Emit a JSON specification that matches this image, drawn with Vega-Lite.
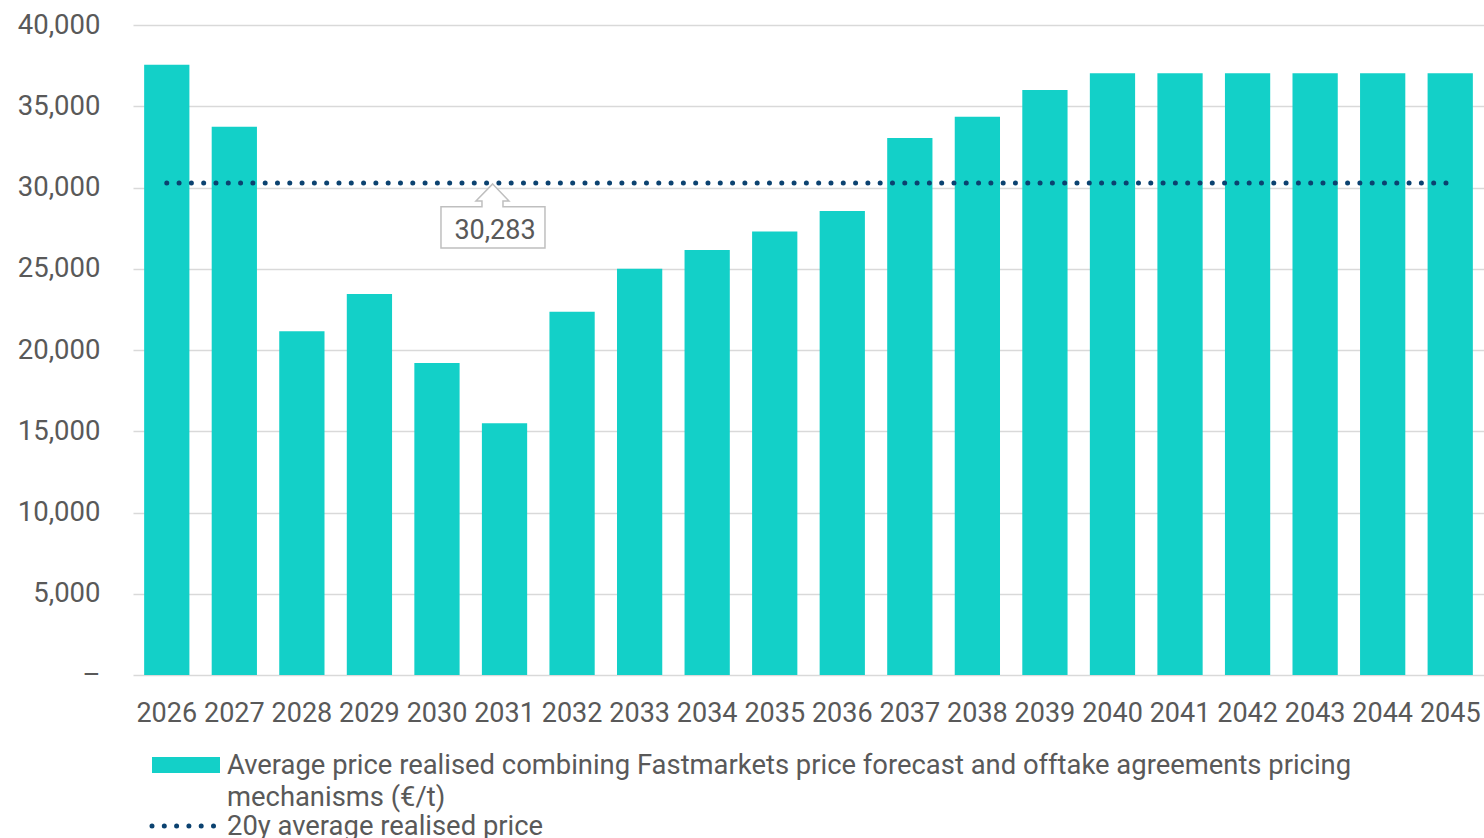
{
  "$schema": "https://vega.github.io/schema/vega-lite/v6.json",
  "width": 1351,
  "height": 650,
  "autosize": {"type": "none"},
  "padding": {"left": 133, "top": 25, "right": 0, "bottom": 163},
  "background": "white",
  "config": {"font": "Roboto", "view": {"stroke": null}},
  "resolve": {"scale": {"color": "independent"}, "legend": {"color": "independent"}},
  "data": {
    "values": [
      {"year": "2026", "price": 37550, "avg": 30283},
      {"year": "2027", "price": 33740, "avg": 30283},
      {"year": "2028", "price": 21150, "avg": 30283},
      {"year": "2029", "price": 23450, "avg": 30283},
      {"year": "2030", "price": 19200, "avg": 30283},
      {"year": "2031", "price": 15500, "avg": 30283},
      {"year": "2032", "price": 22350, "avg": 30283},
      {"year": "2033", "price": 25000, "avg": 30283},
      {"year": "2034", "price": 26150, "avg": 30283},
      {"year": "2035", "price": 27300, "avg": 30283},
      {"year": "2036", "price": 28550, "avg": 30283},
      {"year": "2037", "price": 33050, "avg": 30283},
      {"year": "2038", "price": 34350, "avg": 30283},
      {"year": "2039", "price": 36000, "avg": 30283},
      {"year": "2040", "price": 37030, "avg": 30283},
      {"year": "2041", "price": 37030, "avg": 30283},
      {"year": "2042", "price": 37030, "avg": 30283},
      {"year": "2043", "price": 37030, "avg": 30283},
      {"year": "2044", "price": 37030, "avg": 30283},
      {"year": "2045", "price": 37030, "avg": 30283}
    ]
  },
  "encoding": {
    "x": {
      "field": "year",
      "type": "nominal",
      "sort": null,
      "scale": {"paddingInner": 0.33, "paddingOuter": 0.165},
      "axis": {
        "title": null,
        "labelAngle": 0,
        "domain": false,
        "ticks": false,
        "tickSize": 0,
        "labelPadding": 25,
        "labelFontSize": 27,
        "labelColor": "#595959",
        "labelFont": "Roboto"
      }
    }
  },
  "layer": [
    {
      "mark": {"type": "bar"},
      "encoding": {
        "y": {
          "field": "price",
          "type": "quantitative",
          "scale": {"domain": [0, 40000], "nice": false},
          "axis": {
            "title": null,
            "values": [0, 5000, 10000, 15000, 20000, 25000, 30000, 35000, 40000],
            "labelExpr": "datum.value == 0 ? '– ' : format(datum.value, ',')",
            "grid": true,
            "gridColor": "#d9d9d9",
            "gridWidth": 1.5,
            "domain": false,
            "ticks": false,
            "tickSize": 0,
            "labelPadding": 33,
            "labelFontSize": 27.5,
            "labelColor": "#595959",
            "labelFont": "Roboto"
          }
        },
        "color": {
          "datum": "Average price realised combining Fastmarkets price forecast and offtake agreements pricing mechanisms (€/t)",
          "type": "nominal",
          "scale": {
            "domain": ["Average price realised combining Fastmarkets price forecast and offtake agreements pricing mechanisms (€/t)"],
            "range": ["#13D0C8"]
          },
          "legend": {
            "title": null,
            "orient": "none",
            "legendX": 16.5,
            "legendY": 703.5,
            "direction": "vertical",
            "padding": 0,
            "labelFont": "Roboto",
            "labelFontSize": 27.4,
            "labelColor": "#595959",
            "labelLimit": 1400,
            "labelOffset": 4.5,
            "labelBaseline": "alphabetic",
            "symbolSize": 4624,
            "symbolStrokeWidth": 5,
            "labelExpr": "['Average price realised combining Fastmarkets price forecast and offtake agreements pricing', 'mechanisms (€/t)']",
            "encode": {
              "symbols": {
                "update": {
                  "size": {"value": 4624},
                  "shape": {"value": "M-1,-0.235L1,-0.235L1,0.235L-1,0.235Z"},
                  "fill": {"value": "#13D0C8"},
                  "stroke": {"value": "transparent"},
                  "strokeOpacity": {"value": 0},
                  "strokeWidth": {"value": 5},
                  "opacity": {"value": 1}
                }
              },
              "labels": {
                "update": {"dy": {"value": 9}, "lineHeight": {"value": 32}}
              }
            }
          }
        }
      }
    },
    {
      "mark": {"type": "line", "strokeWidth": 5, "strokeCap": "round", "strokeDash": [0, 12.3]},
      "encoding": {
        "y": {"field": "avg", "type": "quantitative"},
        "color": {
          "datum": "20y average realised price",
          "type": "nominal",
          "scale": {"domain": ["20y average realised price"], "range": ["#0B4270"]},
          "legend": {
            "title": null,
            "orient": "none",
            "legendX": 16.5,
            "legendY": 764.5,
            "direction": "vertical",
            "padding": 0,
            "labelFont": "Roboto",
            "labelFontSize": 27.4,
            "labelColor": "#595959",
            "labelLimit": 1400,
            "labelOffset": 4.5,
            "labelBaseline": "alphabetic",
            "symbolSize": 4624,
            "symbolStrokeWidth": 5,
            "encode": {
              "symbols": {
                "update": {
                  "size": {"value": 4624},
                  "shape": {"value": "M-1,0L1,0"},
                  "fill": {"value": "transparent"},
                  "stroke": {"value": "#0B4270"},
                  "strokeWidth": {"value": 5},
                  "strokeDash": {"value": [0, 12.3]},
                  "strokeCap": {"value": "round"},
                  "opacity": {"value": 1},
                  "strokeOpacity": {"value": 1}
                }
              },
              "labels": {
                "update": {"dy": {"value": 9}}
              }
            }
          }
        }
      }
    },
    {
      "data": {"values": [{"year": "2030", "avg": 30283, "label": "30,283"}]},
      "mark": {
        "type": "point",
        "shape": "M0.557,0.01L0.72,0.181L0.66,0.181L0.66,0.238L1.08,0.238L1.08,0.651L0.04,0.651L0.04,0.238L0.45,0.238L0.45,0.181L0.39,0.181Z",
        "size": 40000,
        "filled": true,
        "fill": "white",
        "stroke": "#bfbfbf",
        "strokeWidth": 1.5,
        "opacity": 1
      },
      "encoding": {
        "y": {"field": "avg", "type": "quantitative"}
      }
    },
    {
      "data": {"values": [{"year": "2030", "avg": 30283, "label": "30,283"}]},
      "mark": {"type": "text", "dx": 58, "dy": 48, "fontSize": 27, "color": "#595959", "font": "Roboto", "align": "center", "baseline": "middle"},
      "encoding": {
        "y": {"field": "avg", "type": "quantitative"},
        "text": {"field": "label"}
      }
    }
  ]
}
